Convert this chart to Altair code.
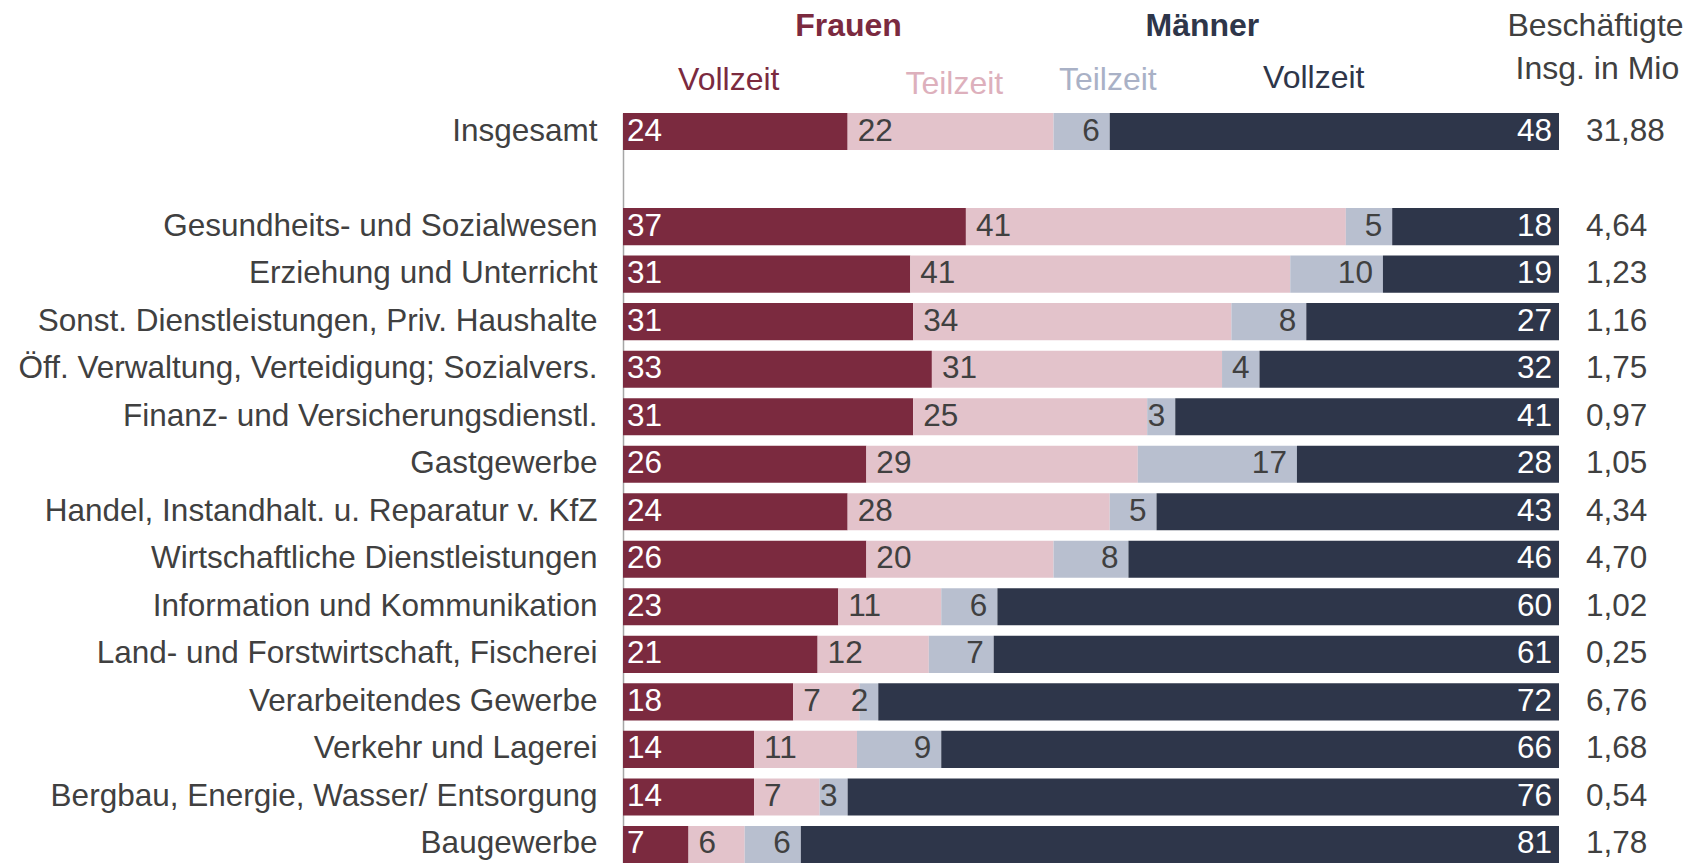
import altair as alt
import pandas as pd

cats = ["Insgesamt", "Gesundheits- und Sozialwesen", "Erziehung und Unterricht",
        "Sonst. Dienstleistungen, Priv. Haushalte", "Öff. Verwaltung, Verteidigung; Sozialvers.",
        "Finanz- und Versicherungsdienstl.", "Gastgewerbe",
        "Handel, Instandhalt. u. Reparatur v. KfZ", "Wirtschaftliche Dienstleistungen",
        "Information und Kommunikation", "Land- und Forstwirtschaft, Fischerei",
        "Verarbeitendes Gewerbe", "Verkehr und Lagerei",
        "Bergbau, Energie, Wasser/ Entsorgung", "Baugewerbe"]
frauen_vz = [24, 37, 31, 31, 33, 31, 26, 24, 26, 23, 21, 18, 14, 14, 7]
frauen_tz = [22, 41, 41, 34, 31, 25, 29, 28, 20, 11, 12, 7, 11, 7, 6]
maenner_tz = [6, 5, 10, 8, 4, 3, 17, 5, 8, 6, 7, 2, 9, 3, 6]
maenner_vz = [48, 18, 19, 27, 32, 41, 28, 43, 46, 60, 61, 72, 66, 76, 81]
beschaeftigte = ["31,88", "4,64", "1,23", "1,16", "1,75", "0,97", "1,05", "4,34",
                 "4,70", "1,02", "0,25", "6,76", "1,68", "0,54", "1,78"]

segments = ["Frauen Vollzeit", "Frauen Teilzeit", "Männer Teilzeit", "Männer Vollzeit"]
colors = ["#7B2A3F", "#E3C3CB", "#B8BFCF", "#2E364A"]

hdr_text = ["Frauen", "Männer", "Vollzeit", "Teilzeit", "Teilzeit", "Vollzeit",
            "Beschäftigte", "Insg. in Mio"]
hdr_pos = [24.1, 61.9, 11.3, 35.4, 51.8, 73.8, 103.9, 104.1]

y_domain = [cats[0], " "] + cats[1:]

rows = []
for i, c in enumerate(cats):
    vals = [frauen_vz[i], frauen_tz[i], maenner_tz[i], maenner_vz[i]]
    tot = sum(vals)
    acc = 0
    for s, v in zip(segments, vals):
        rows.append({"cat": c, "seg": s, "value": v, "total": beschaeftigte[i],
                     "start": acc / tot * 100, "end": (acc + v) / tot * 100})
        acc += v
df = pd.DataFrame(rows)

FONT = "Liberation Sans"
FS = 31.5
FSH = 32
TXT = "#404040"

y_scale = alt.Scale(domain=y_domain, paddingInner=0.22, paddingOuter=0)
x_scale = alt.Scale(domain=[0, 100], nice=False, zero=False)

base = alt.Chart(df)

bars = base.mark_bar().encode(
    x=alt.X("start:Q", scale=x_scale, axis=None),
    x2="end:Q",
    y=alt.Y("cat:N", scale=y_scale,
            axis=alt.Axis(title=None, labelFont=FONT, labelFontSize=FS, labelColor=TXT,
                          labelPadding=26, ticks=False, domainColor="#A6A6A6",
                          domainWidth=1.5, labelLimit=1000)),
    color=alt.Color("seg:N", scale=alt.Scale(domain=segments, range=colors), legend=None),
)

def seg_text(seg, align, dx, color, anchor, field="value:Q"):
    return base.transform_filter(alt.datum.seg == seg).mark_text(
        align=align, baseline="middle", dx=dx, font=FONT, fontSize=FS, color=color
    ).encode(
        x=alt.X(f"{anchor}:Q"),
        y=alt.Y("cat:N"),
        text=field,
    )

t1 = seg_text("Frauen Vollzeit", "left", 4, "white", "start")
t2 = seg_text("Frauen Teilzeit", "left", 10, TXT, "start")
t3 = seg_text("Männer Teilzeit", "right", -10, TXT, "end")
t4 = seg_text("Männer Vollzeit", "right", -7, "white", "end")
totals = seg_text("Männer Vollzeit", "left", 27, TXT, "end", "total:N")

hdr_df = pd.DataFrame({"t": hdr_text, "x": hdr_pos})
hdr_y = [-87, -87, -33, -29, -33, -35, -87, -44]
hdr_c = ["#7B2A3F", "#2E364A", "#7B2A3F", "#DDB0BC", "#A9B1C6", "#2E364A", TXT, TXT]
hdr_w = ["bold", "bold", "normal", "normal", "normal", "normal", "normal", "normal"]

hdr_layers = []
for i, (yp, c, w) in enumerate(zip(hdr_y, hdr_c, hdr_w)):
    hdr_layers.append(
        alt.Chart(hdr_df).transform_filter(
            alt.datum.t == hdr_text[i]
        ).transform_filter(
            alt.datum.x == hdr_pos[i]
        ).mark_text(
            align="center", baseline="middle", font=FONT, fontSize=FSH, fontWeight=w,
            color=c, y=yp
        ).encode(
            x=alt.X("x:Q"),
            text="t:N",
        )
    )

chart = alt.layer(bars, t1, t2, t3, t4, totals, *hdr_layers).properties(
    width=936, height=750,
    padding={"left": 10, "top": 2, "right": 5, "bottom": 0},
).configure_view(stroke=None)

chart.save("out.html", embed_options={"renderer": "svg", "actions": False})
